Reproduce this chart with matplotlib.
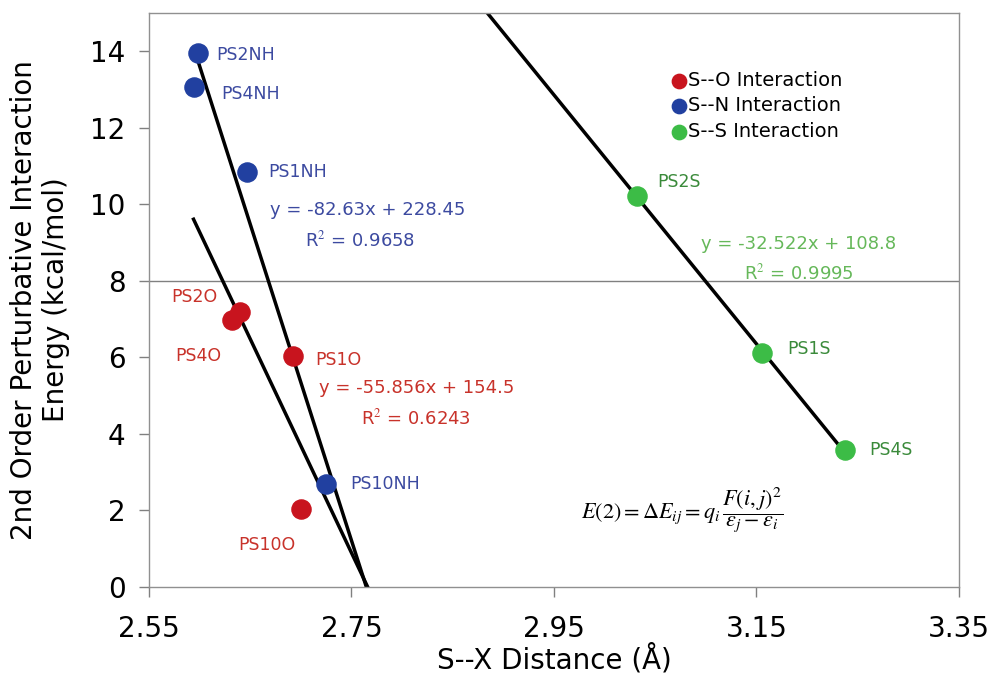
import numpy as np
import matplotlib.pyplot as plt

plt.rcParams['font.family'] = ['DejaVu Sans']
plt.rcParams['mathtext.fontset'] = 'stix'

# S--O interaction
o_names = ['PS2O', 'PS4O', 'PS1O', 'PS10O']
o_dist = [2.640, 2.632, 2.692, 2.700]
o_energy = [7.19, 6.98, 6.04, 2.04]

# S--N interaction
n_names = ['PS2NH', 'PS4NH', 'PS1NH', 'PS10NH']
n_dist = [2.598, 2.594, 2.647, 2.725]
n_energy = [13.96, 13.07, 10.85, 2.69]

# S--S interaction
s_names = ['PS2S', 'PS1S', 'PS4S']
s_dist = [3.032, 3.156, 3.238]
s_energy = [10.22, 6.12, 3.58]

# trendline coefficients (slope, intercept) and start x of each drawn line
o_fit = (-55.856, 154.5)
n_fit = (-82.63, 228.45)
s_fit = (-32.522, 108.8)
o_fit_start = 2.594
n_fit_start = 2.5955
s_fit_start = 2.85

x_ticks = [2.55, 2.75, 2.95, 3.15, 3.35]
y_ticks = [0, 2, 4, 6, 8, 10, 12, 14]

red = '#c8141e'
blue = '#2140a0'
green = '#3cbc46'
red_txt = '#c8322a'
blue_txt = '#3c4aa0'
green_txt = '#3a8a3a'
green_eq = '#66b85a'

fig = plt.figure(figsize=(9.9, 6.81), dpi=100)
ax = fig.add_axes([0.1505, 0.138, 0.818, 0.843])

ax.axhline(8, color='#808080', lw=1, zorder=1)

# trendlines
x = np.linspace(o_fit_start, -o_fit[1] / o_fit[0], 50)
ax.plot(x, o_fit[0] * x + o_fit[1], color='black', lw=2.5, zorder=2)
x = np.linspace(n_fit_start, -n_fit[1] / n_fit[0], 50)
ax.plot(x, n_fit[0] * x + n_fit[1], color='black', lw=2.5, zorder=2)
x = np.linspace(s_fit_start, max(s_dist), 50)
ax.plot(x, s_fit[0] * x + s_fit[1], color='black', lw=2.5, zorder=2)

ax.scatter(o_dist, o_energy, s=190, color=red, zorder=3, label='S--O Interaction')
ax.scatter(n_dist, n_energy, s=190, color=blue, zorder=3, label='S--N Interaction')
ax.scatter(s_dist, s_energy, s=190, color=green, zorder=3, label='S--S Interaction')

# point labels
lab_fs = 12.5
o_off = [(-0.068, 0.38), (-0.056, -0.95), (0.022, -0.1), (-0.062, -0.95)]
for name, xv, yv, (dx, dy) in zip(o_names, o_dist, o_energy, o_off):
    ax.text(xv + dx, yv + dy, name, color=red_txt, fontsize=lab_fs, va='center')
n_off = [(0.018, -0.05), (0.027, -0.2), (0.021, 0.0), (0.024, 0.0)]
for name, xv, yv, (dx, dy) in zip(n_names, n_dist, n_energy, n_off):
    ax.text(xv + dx, yv + dy, name, color=blue_txt, fontsize=lab_fs, va='center')
s_off = [(0.02, 0.35), (0.025, 0.1), (0.024, 0.0)]
for name, xv, yv, (dx, dy) in zip(s_names, s_dist, s_energy, s_off):
    ax.text(xv + dx, yv + dy, name, color=green_txt, fontsize=lab_fs, va='center')

# regression equations
eq_fs = 13
ax.text(2.67, 9.85, 'y = -82.63x + 228.45', color=blue_txt, fontsize=eq_fs, va='center')
ax.text(2.704, 9.05, 'R$^2$ = 0.9658', color=blue_txt, fontsize=eq_fs, va='center')
ax.text(2.718, 5.2, 'y = -55.856x + 154.5', color=red_txt, fontsize=eq_fs, va='center')
ax.text(2.759, 4.4, 'R$^2$ = 0.6243', color=red_txt, fontsize=eq_fs, va='center')
ax.text(3.095, 8.97, 'y = -32.522x + 108.8', color=green_eq, fontsize=eq_fs, va='center')
ax.text(3.138, 8.2, 'R$^2$ = 0.9995', color=green_eq, fontsize=eq_fs, va='center')

ax.text(3.077, 2.0,
        r'$E(2) = \Delta E_{ij} = q_i\,\dfrac{F(i,j)^2}{\varepsilon_j - \varepsilon_i}$',
        fontsize=16, ha='center', va='center', color='black')

ax.legend(loc='upper left', bbox_to_anchor=(0.642, 0.899), frameon=False,
          fontsize=14, handletextpad=0.0, handlelength=1.0, borderpad=0,
          borderaxespad=0, labelspacing=0.33, markerscale=0.75)

ax.set_xlim(2.55, 3.35)
ax.set_ylim(0, 15)
ax.set_xticks(x_ticks)
ax.set_xticklabels([f'{v:.2f}' for v in x_ticks])
ax.set_yticks(y_ticks)
ax.tick_params(axis='both', labelsize=20, direction='out', length=7,
               color='#808080', width=1)
ax.tick_params(axis='x', pad=13)
ax.tick_params(axis='y', pad=10)
for sp in ax.spines.values():
    sp.set_color('#909090')
    sp.set_linewidth(1)

ax.set_xlabel('S--X Distance (Å)', fontsize=20)
ax.set_ylabel('2nd Order Perturbative Interaction\nEnergy (kcal/mol)', fontsize=20)
ax.xaxis.set_label_coords(0.5, -0.10)
ax.yaxis.set_label_coords(-0.0975, 0.5)

fig.savefig('out.png', dpi=100)
